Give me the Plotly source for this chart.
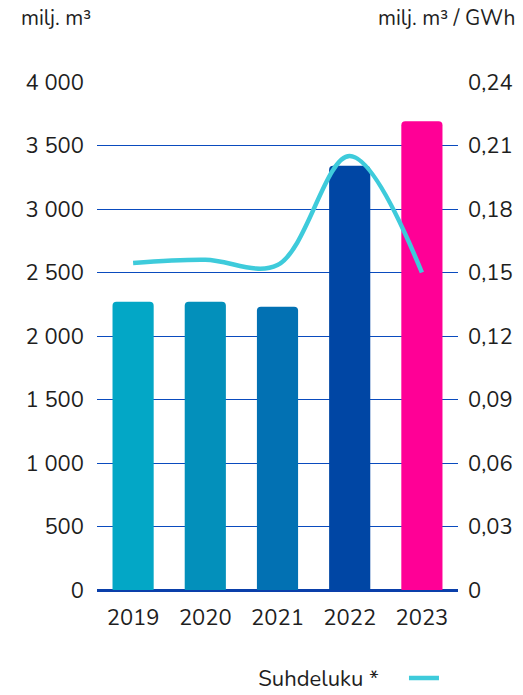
import plotly.graph_objects as go

years = ["2019", "2020", "2021", "2022", "2023"]
volume = [2270, 2270, 2230, 3340, 3690]          # milj. m³
ratio = [0.1545, 0.156, 0.1535, 0.205, 0.150]    # milj. m³ / GWh
bar_colors = ["#03A7C6", "#0390BB", "#0271B3", "#0046A4", "#FF0096"]
left_ticks = [0, 500, 1000, 1500, 2000, 2500, 3000, 3500, 4000]
left_labels = ["0", "500", "1 000", "1 500", "2 000", "2 500", "3 000", "3 500", "4 000"]
right_ticks = [0, 0.03, 0.06, 0.09, 0.12, 0.15, 0.18, 0.21, 0.24]
right_labels = ["0", "0,03", "0,06", "0,09", "0,12", "0,15", "0,18", "0,21", "0,24"]

FONT = "Nunito, Open Sans, sans-serif"
TXT = "#1e1e1e"
FS = 22

fig = go.Figure()
fig.add_trace(go.Bar(
    x=years, y=volume, marker=dict(color=bar_colors, line=dict(width=0), cornerradius=4),
    width=0.57, showlegend=False, hoverinfo="skip"))
fig.add_trace(go.Scatter(
    x=years, y=ratio, yaxis="y2", mode="lines", name="",
    line=dict(color="#3ECBDB", width=4.5, shape="spline", smoothing=1.0),
    showlegend=True))

fig.update_layout(
    width=523, height=695,
    margin=dict(l=97, r=65, t=82, b=105, autoexpand=False),
    paper_bgcolor="white", plot_bgcolor="white",
    font=dict(family=FONT, size=FS, color=TXT),
    xaxis=dict(range=[-0.5, 4.5], showgrid=False, showline=False, ticks="",
               ticklabelstandoff=12, tickfont=dict(size=FS, color=TXT)),
    yaxis=dict(range=[0, 4000], tickvals=left_ticks, ticktext=left_labels,
               showgrid=True, gridcolor="#0A4BBE", gridwidth=1,
               zeroline=True, zerolinecolor="#0A3FAA", zerolinewidth=2.5,
               showline=False, ticks="", ticklabelstandoff=12,
               tickfont=dict(size=FS, color=TXT)),
    yaxis2=dict(range=[0, 0.24], tickvals=right_ticks, ticktext=right_labels,
                overlaying="y", side="right", showgrid=False, zeroline=False,
                showline=False, ticks="", ticklabelstandoff=9,
                tickfont=dict(size=FS, color=TXT)),
    legend=dict(orientation="h", xref="container", yref="container",
                x=0.49, y=0.024, xanchor="left", yanchor="middle",
                title=dict(text="Suhdeluku *&nbsp;&nbsp;&nbsp;", side="left",
                           font=dict(size=FS, color=TXT)),
                font=dict(size=FS, color=TXT), itemwidth=30, bgcolor="rgba(0,0,0,0)"),
    annotations=[
        dict(text="milj. m³", xref="paper", yref="paper", x=-0.215, y=1.126,
             xanchor="left", yanchor="middle", showarrow=False,
             font=dict(size=21, color=TXT)),
        dict(text="milj. m³ / GWh", xref="paper", yref="paper", x=1.165, y=1.126,
             xanchor="right", yanchor="middle", showarrow=False,
             font=dict(size=21, color=TXT)),
    ],
)

fig.write_html("out.html")
